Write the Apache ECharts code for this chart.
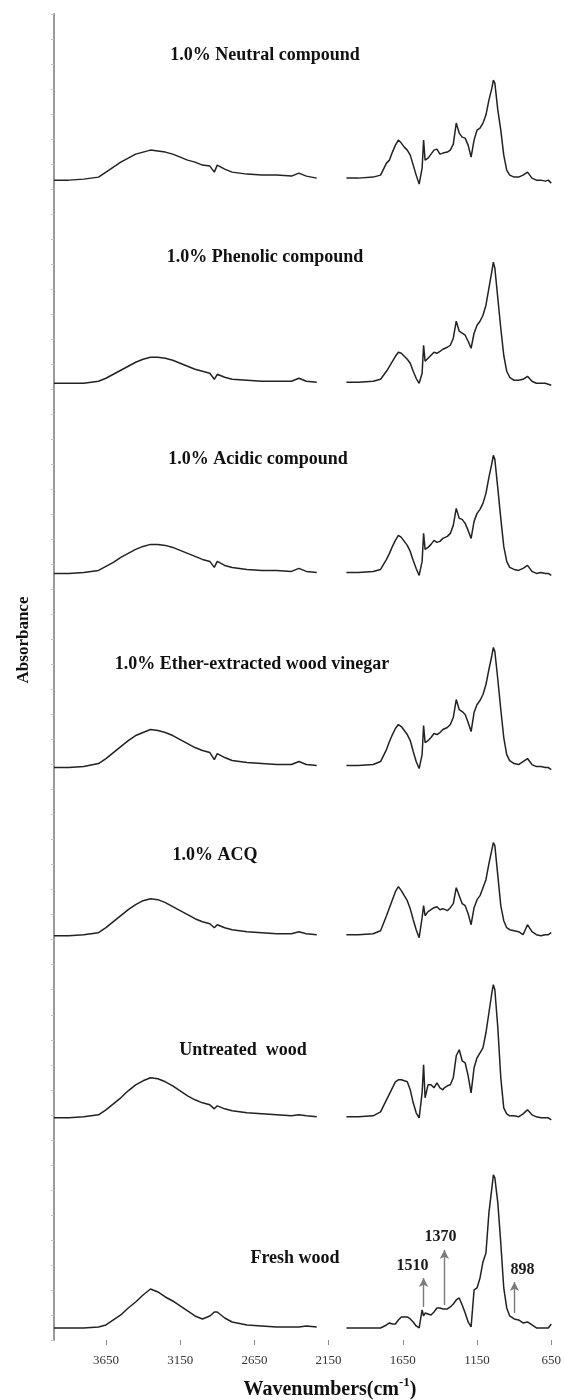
<!DOCTYPE html>
<html>
<head>
<meta charset="UTF-8">
<title>FTIR spectra of treated wood</title>
<script src="https://cdn.jsdelivr.net/npm/echarts@6/dist/echarts.min.js"></script>
</head>
<body style="margin:0;background:#fff;">
<div id="container" style="width:564px;height:1400px;"></div>
<script>
// wavenumber grid shared by all spectra (cm-1); 2130 is the cut-out CO2 region
const wavenumbers = [4000, 3900, 3800, 3700, 3650, 3600, 3550, 3500, 3450, 3400,
  3350, 3300, 3250, 3200, 3150, 3100, 3050, 3000, 2950, 2920,
  2900, 2850, 2800, 2700, 2600, 2500, 2400, 2350, 2300, 2230,
  2130, 2030, 1950, 1850, 1800, 1760, 1740, 1720, 1700, 1680,
  1660, 1640, 1620, 1600, 1580, 1560, 1540, 1520, 1510, 1500,
  1480, 1460, 1440, 1420, 1400, 1380, 1370, 1350, 1330, 1310,
  1290, 1270, 1250, 1230, 1210, 1190, 1170, 1150, 1130, 1110,
  1090, 1070, 1050, 1040, 1030, 1010, 990, 970, 950, 930,
  900, 870, 840, 810, 780, 750, 720, 690, 670, 650];

// absorbance above each trace's own baseline
const neutral = [0, 0, 0.01, 0.03, 0.08, 0.13, 0.18, 0.22, 0.26, 0.28,
  0.30, 0.29, 0.28, 0.26, 0.23, 0.20, 0.18, 0.15, 0.14, 0.08,
  0.15, 0.11, 0.08, 0.06, 0.05, 0.05, 0.04, 0.07, 0.04, 0.02,
  null, 0.02, 0.02, 0.03, 0.05, 0.17, 0.20, 0.28, 0.35, 0.40,
  0.37, 0.33, 0.30, 0.25, 0.15, 0.05, -0.04, 0.12, 0.40, 0.20,
  0.22, 0.26, 0.30, 0.31, 0.26, 0.27, 0.28, 0.28, 0.30, 0.36,
  0.57, 0.47, 0.43, 0.42, 0.35, 0.23, 0.40, 0.50, 0.52, 0.57,
  0.65, 0.80, 0.92, 1.00, 0.97, 0.70, 0.50, 0.25, 0.10, 0.05,
  0.03, 0.03, 0.05, 0.08, 0.02, 0, 0, -0.01, 0, -0.03];

const phenolic = [0, 0, 0, 0.02, 0.05, 0.09, 0.13, 0.17, 0.21, 0.24,
  0.26, 0.26, 0.25, 0.23, 0.20, 0.17, 0.14, 0.12, 0.10, 0.04,
  0.09, 0.06, 0.04, 0.03, 0.02, 0.02, 0.02, 0.05, 0.02, 0.01,
  null, 0.01, 0.01, 0.02, 0.04, 0.12, 0.17, 0.22, 0.27, 0.31,
  0.30, 0.27, 0.24, 0.20, 0.12, 0.05, 0, 0.10, 0.38, 0.22,
  0.25, 0.28, 0.31, 0.30, 0.32, 0.34, 0.35, 0.36, 0.38, 0.45,
  0.62, 0.52, 0.50, 0.48, 0.42, 0.35, 0.50, 0.58, 0.62, 0.68,
  0.78, 0.95, 1.12, 1.21, 1.15, 0.85, 0.55, 0.28, 0.12, 0.06,
  0.03, 0.03, 0.04, 0.07, 0.02, 0, 0, 0, -0.01, -0.02];

const acidic = [0, 0, 0.01, 0.03, 0.07, 0.11, 0.16, 0.20, 0.24, 0.27,
  0.29, 0.29, 0.28, 0.26, 0.23, 0.20, 0.17, 0.14, 0.12, 0.06,
  0.12, 0.08, 0.06, 0.04, 0.03, 0.03, 0.02, 0.05, 0.02, 0.01,
  null, 0.01, 0.01, 0.02, 0.04, 0.14, 0.20, 0.27, 0.33, 0.38,
  0.36, 0.32, 0.28, 0.22, 0.13, 0.05, -0.02, 0.12, 0.40, 0.24,
  0.26, 0.29, 0.33, 0.31, 0.32, 0.35, 0.36, 0.37, 0.40, 0.48,
  0.65, 0.55, 0.54, 0.50, 0.43, 0.35, 0.52, 0.60, 0.64, 0.70,
  0.80, 0.96, 1.10, 1.18, 1.14, 0.85, 0.55, 0.27, 0.12, 0.06,
  0.04, 0.03, 0.05, 0.08, 0.02, 0, 0.01, 0, 0, -0.02];

const ether = [0, 0, 0.01, 0.04, 0.09, 0.15, 0.21, 0.27, 0.32, 0.35,
  0.38, 0.37, 0.35, 0.32, 0.28, 0.24, 0.20, 0.17, 0.15, 0.08,
  0.14, 0.10, 0.07, 0.05, 0.04, 0.03, 0.03, 0.06, 0.03, 0.02,
  null, 0.02, 0.02, 0.03, 0.06, 0.18, 0.26, 0.33, 0.39, 0.43,
  0.41, 0.37, 0.33, 0.27, 0.16, 0.06, -0.01, 0.13, 0.42, 0.25,
  0.27, 0.30, 0.34, 0.33, 0.35, 0.38, 0.39, 0.40, 0.43, 0.50,
  0.68, 0.58, 0.56, 0.53, 0.45, 0.36, 0.55, 0.63, 0.67, 0.73,
  0.83, 0.98, 1.12, 1.20, 1.16, 0.88, 0.58, 0.30, 0.13, 0.07,
  0.04, 0.03, 0.06, 0.09, 0.03, 0.01, 0.01, 0, 0, -0.02];

const acq = [0, 0, 0.01, 0.03, 0.08, 0.14, 0.20, 0.26, 0.31, 0.35,
  0.37, 0.36, 0.33, 0.29, 0.25, 0.21, 0.17, 0.14, 0.12, 0.08,
  0.11, 0.08, 0.06, 0.04, 0.03, 0.02, 0.02, 0.04, 0.02, 0.01,
  null, 0.01, 0.01, 0.02, 0.05, 0.20, 0.28, 0.36, 0.44, 0.49,
  0.45, 0.40, 0.35, 0.27, 0.16, 0.06, -0.02, 0.18, 0.30, 0.20,
  0.24, 0.26, 0.28, 0.29, 0.26, 0.27, 0.26, 0.25, 0.28, 0.32,
  0.48, 0.40, 0.32, 0.30, 0.22, 0.11, 0.28, 0.36, 0.40, 0.48,
  0.56, 0.72, 0.86, 0.93, 0.90, 0.60, 0.30, 0.15, 0.08, 0.06,
  0.05, 0.04, 0.01, 0.11, 0.04, 0.01, 0, 0.01, 0.01, 0.03];

const untreated = [0, 0, 0.01, 0.03, 0.08, 0.14, 0.20, 0.27, 0.33, 0.37,
  0.40, 0.39, 0.36, 0.32, 0.27, 0.22, 0.18, 0.15, 0.13, 0.09,
  0.12, 0.09, 0.07, 0.05, 0.04, 0.03, 0.02, 0.03, 0.02, 0.01,
  null, 0.01, 0.01, 0.02, 0.06, 0.18, 0.24, 0.30, 0.36, 0.38,
  0.38, 0.37, 0.36, 0.28, 0.15, 0.05, 0, 0.25, 0.53, 0.20,
  0.33, 0.33, 0.30, 0.35, 0.30, 0.28, 0.30, 0.32, 0.33, 0.40,
  0.62, 0.68, 0.57, 0.55, 0.42, 0.25, 0.50, 0.60, 0.65, 0.70,
  0.85, 1.05, 1.25, 1.33, 1.28, 0.90, 0.40, 0.10, 0.04, 0.02,
  0.02, 0.01, 0.04, 0.08, 0.03, 0.01, 0, 0, 0, -0.02];

const fresh = [0, 0, 0, 0.01, 0.03, 0.08, 0.13, 0.20, 0.26, 0.33,
  0.39, 0.36, 0.31, 0.27, 0.22, 0.17, 0.12, 0.09, 0.12, 0.16,
  0.16, 0.10, 0.06, 0.03, 0.02, 0.01, 0.01, 0.01, 0.02, 0.01,
  null, 0, 0, 0, 0, 0.03, 0.05, 0.04, 0.04, 0.08,
  0.11, 0.11, 0.11, 0.09, 0.06, 0.02, 0, 0.18, 0.12, 0.15,
  0.14, 0.13, 0.16, 0.20, 0.20, 0.19, 0.18, 0.19, 0.21, 0.24,
  0.28, 0.30, 0.23, 0.15, 0.06, 0.01, 0.38, 0.40, 0.50, 0.66,
  0.75, 1.15, 1.40, 1.53, 1.50, 1.25, 0.85, 0.40, 0.20, 0.12,
  0.09, 0.08, 0.05, 0.06, 0.03, 0, 0, 0, 0, 0.04];

const sampleNames = ['1.0% Neutral compound', '1.0% Phenolic compound', '1.0% Acidic compound',
  '1.0% Ether-extracted wood vinegar', '1.0% ACQ', 'Untreated  wood', 'Fresh wood'];
const spectra = [neutral, phenolic, acidic, ether, acq, untreated, fresh];
// vertical shift of each trace in the stack
const stackOffsets = [11.59, 9.56, 7.66, 5.72, 4.04, 2.22, 0.12];

const tickLabels = [3650, 3150, 2650, 2150, 1650, 1150, 650];

// marked bands on the fresh wood trace
const peakMarks = [1510, 1370, 898];
const arrowFrom = [0.21, 0.23, 0.15];
const arrowTo = [0.50, 0.78, 0.46];

// label centres in pixels for the sample names
const namePos = [[265, 55], [265, 257], [258, 459], [252, 664], [215, 855], [243, 1050], [295, 1258]];
const markLabelShift = [[-11, -12], [-4, -13], [8, -12]];

const FONT = 'Liberation Serif';

var dom = document.getElementById('container');
var myChart = echarts.init(dom);

function toPoints(values, offset) {
  return wavenumbers.map(function (w, i) {
    return values[i] === null ? [w, '-'] : [w, +(values[i] + offset).toFixed(3)];
  });
}

var series = spectra.map(function (vals, k) {
  var s = {
    name: sampleNames[k],
    type: 'line',
    data: toPoints(vals, stackOffsets[k]),
    symbol: 'none',
    connectNulls: false,
    silent: true,
    lineStyle: { color: '#222', width: 1.5 }
  };
  if (k === spectra.length - 1) {
    var off = stackOffsets[k];
    s.markLine = {
      silent: true,
      symbol: ['none', 'arrow'],
      symbolSize: [7, 9],
      lineStyle: { color: '#7a7a7a', width: 1.4, type: 'solid' },
      label: { show: false },
      data: peakMarks.map(function (w, i) {
        return [{ coord: [w, off + arrowFrom[i]] }, { coord: [w, off + arrowTo[i]] }];
      })
    };
    s.markPoint = {
      silent: true,
      symbol: 'circle',
      symbolSize: 0,
      data: peakMarks.map(function (w, i) {
        return {
          name: String(w),
          coord: [w, off + arrowTo[i]],
          label: { offset: markLabelShift[i] }
        };
      }),
      label: {
        show: true,
        formatter: function (p) { return p.name; },
        fontFamily: FONT,
        fontWeight: 'bold',
        fontSize: 16,
        color: '#1a1a1a'
      }
    };
  }
  return s;
});

var graphics = sampleNames.map(function (t, k) {
  return {
    type: 'text',
    x: namePos[k][0],
    y: namePos[k][1],
    style: {
      text: t,
      fontFamily: FONT,
      fontWeight: 'bold',
      fontSize: 18,
      fill: '#111',
      textAlign: 'center',
      textVerticalAlign: 'middle'
    }
  };
});
graphics.push({
  type: 'text',
  x: 24,
  y: 640,
  rotation: Math.PI / 2,
  style: {
    text: 'Absorbance',
    fontFamily: FONT,
    fontWeight: 'bold',
    fontSize: 17,
    fill: '#111',
    textAlign: 'center',
    textVerticalAlign: 'middle'
  }
});
graphics.push({
  type: 'text',
  x: 330,
  y: 1388,
  style: {
    text: '{a|Wavenumbers(cm}{b|-1}{a|)}',
    textAlign: 'center',
    textVerticalAlign: 'middle',
    rich: {
      a: { fontFamily: FONT, fontWeight: 'bold', fontSize: 20, fill: '#111', lineHeight: 24, verticalAlign: 'bottom' },
      b: { fontFamily: FONT, fontWeight: 'bold', fontSize: 13, fill: '#111', lineHeight: 24, verticalAlign: 'top' }
    }
  }
});

var option = {
  animation: false,
  backgroundColor: '#fff',
  grid: { left: 54, right: 11, top: 14, bottom: 60 },
  xAxis: {
    type: 'value',
    inverse: true,
    min: 650,
    max: 4000,
    axisLine: { show: false },
    splitLine: { show: false },
    axisTick: { show: true, customValues: tickLabels, length: 5, lineStyle: { color: '#8a8a8a' } },
    axisLabel: {
      customValues: tickLabels,
      formatter: function (v) { return String(v); },
      margin: 14,
      fontFamily: FONT,
      fontSize: 13,
      color: '#333'
    }
  },
  yAxis: {
    type: 'value',
    min: 0,
    max: 13.25,
    interval: 0.25,
    axisLine: { show: true, lineStyle: { color: '#9a9a9a', width: 2 } },
    axisTick: { show: true, length: 3, lineStyle: { color: '#c4c4c4' } },
    axisLabel: { show: false },
    splitLine: { show: false }
  },
  graphic: graphics,
  series: series
};

myChart.setOption(option);
</script>
</body>
</html>
